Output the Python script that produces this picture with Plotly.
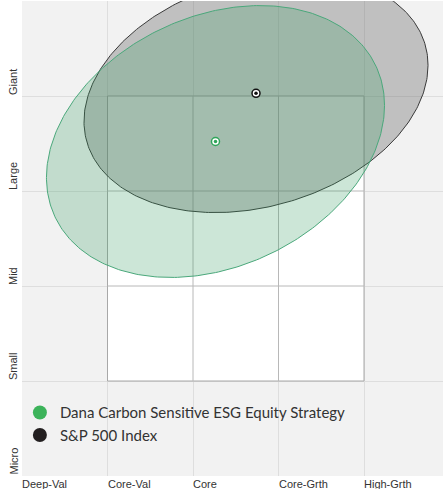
import numpy as np
import plotly.graph_objects as go

# ---- data ----
style_labels = ["Deep-Val", "Core-Val", "Core", "Core-Grth", "High-Grth"]
style_pos = [0, 1, 2, 3, 4]
size_labels = ["Micro", "Small", "Mid", "Large", "Giant"]
size_pos = [0, 1, 2, 3, 4]

series_names = ["Dana Carbon Sensitive ESG Equity Strategy", "S&P 500 Index"]
centroid_x = [2.263, 2.737]
centroid_y = [3.521, 4.028]
zone_half_width = [1.977, 2.012]
zone_half_height = [1.431, 1.255]
zone_correlation = [0.265, 0.235]

fill_colors = ["rgba(50,155,95,0.25)", "rgba(110,110,110,0.38)"]
line_colors = ["#4aa87b", "#3a3a3a"]
marker_colors = ["#3cb35a", "#231f20"]
dot_colors = ["#2fa55a", "#111111"]

XMAX = 421 / 85.5

fig = go.Figure()

t = np.linspace(0, 2 * np.pi, 361)
# draw gray (index) first, green on top
for i in [1, 0]:
    phi = np.arccos(zone_correlation[i])
    ex = centroid_x[i] + zone_half_width[i] * np.cos(t)
    ey = centroid_y[i] + zone_half_height[i] * np.cos(t - phi)
    fig.add_trace(go.Scatter(
        x=ex, y=ey, mode="lines", fill="toself",
        fillcolor=fill_colors[i], line=dict(color=line_colors[i], width=1),
        hoverinfo="skip", showlegend=False))

for i in [1, 0]:
    fig.add_trace(go.Scatter(
        x=[centroid_x[i]], y=[centroid_y[i]], mode="markers",
        marker=dict(size=8, color="white", line=dict(color=dot_colors[i], width=1.5)),
        showlegend=False, hoverinfo="skip"))
    fig.add_trace(go.Scatter(
        x=[centroid_x[i]], y=[centroid_y[i]], mode="markers",
        marker=dict(size=3.5, color=dot_colors[i]),
        showlegend=False, hoverinfo="skip"))

# legend entries
for i in [0, 1]:
    fig.add_trace(go.Scatter(
        x=[None], y=[None], mode="markers", name=series_names[i],
        marker=dict(size=14, color=marker_colors[i])))

shapes = [
    dict(type="rect", xref="x", yref="y", x0=1, x1=4, y0=1, y1=4,
         fillcolor="white", line=dict(color="#a8a8a8", width=1), layer="between"),
]
for v in [2, 3]:
    shapes.append(dict(type="line", xref="x", yref="y", x0=v, x1=v, y0=1, y1=4,
                       line=dict(color="#b8b8b8", width=1), layer="between"))
    shapes.append(dict(type="line", xref="x", yref="y", x0=1, x1=4, y0=v, y1=v,
                       line=dict(color="#b8b8b8", width=1), layer="between"))

annotations = []
for lab, p in zip(style_labels, style_pos):
    annotations.append(dict(x=p, xref="x", y=0, yref="paper", text=lab,
                            xanchor="left", yanchor="top", showarrow=False,
                            xshift=-2, yshift=0,
                            font=dict(family="Liberation Sans", size=11, color="#333333")))
for lab, p in zip(size_labels, size_pos):
    annotations.append(dict(x=0, xref="paper", y=p, yref="y", text=lab,
                            textangle=-90, xanchor="center", yanchor="bottom",
                            showarrow=False, xshift=-9, yshift=-1,
                            font=dict(family="Liberation Sans", size=11, color="#333333")))

fig.update_layout(
    width=443, height=489,
    margin=dict(l=22, r=0, t=1, b=13),
    paper_bgcolor="white", plot_bgcolor="#f2f2f2",
    xaxis=dict(range=[0, XMAX], tickvals=style_pos, showticklabels=False,
               gridcolor="#dedede", gridwidth=1, zeroline=False, showline=False,
               fixedrange=True),
    yaxis=dict(range=[0, 5], tickvals=size_pos, showticklabels=False,
               gridcolor="#dedede", gridwidth=1, zeroline=False, showline=False,
               fixedrange=True),
    shapes=shapes, annotations=annotations,
    showlegend=True,
    legend=dict(x=-0.005, y=0.168, xanchor="left", yanchor="top",
                bgcolor="rgba(0,0,0,0)", tracegroupgap=0,
                font=dict(family="Lato", size=15, color="#333333")),
)

fig.write_html("out.html", config={"displayModeBar": False},
               post_script="document.body.style.margin='0';document.body.style.overflow='hidden';")
